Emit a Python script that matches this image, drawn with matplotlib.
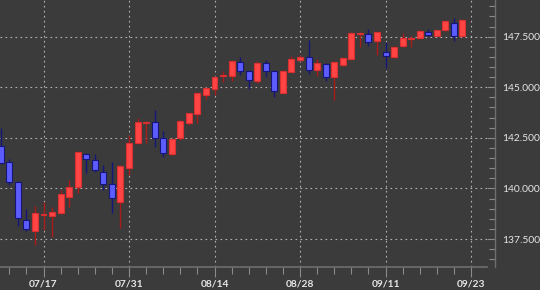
import numpy as np
import matplotlib
matplotlib.use('Agg')
from matplotlib import pyplot as plt
from matplotlib.ticker import MultipleLocator, FixedLocator, FuncFormatter

plt.rcParams['font.family'] = ['Lato', 'DejaVu Sans']

# daily candles (open, high, low, close), one per trading day
opens = [142.11, 141.29, 140.33, 138.44, 137.91, 138.67, 138.65, 138.77, 139.59, 140.09,
         141.69, 141.41, 140.83, 140.20, 139.34, 140.99, 142.23, 143.22, 143.30, 142.48,
         141.69, 142.48, 143.25, 143.68, 144.62, 144.90, 145.55, 145.56, 146.23, 145.80,
         145.31, 146.19, 145.80, 144.73, 145.77, 146.35, 146.48, 145.85, 146.14, 145.49,
         146.10, 146.38, 147.62, 147.63, 147.30, 146.76, 146.51, 147.04, 147.40, 147.42,
         147.72, 147.55, 147.83, 148.16, 147.53]
highs = [142.97, 141.44, 140.36, 138.97, 139.13, 139.34, 139.10, 139.92, 140.42, 141.85,
         141.77, 141.70, 141.16, 141.29, 141.15, 142.64, 143.47, 143.35, 143.88, 142.85,
         142.50, 143.40, 143.75, 144.75, 145.00, 145.55, 145.82, 146.35, 146.51, 145.85,
         146.30, 146.35, 145.85, 145.85, 146.55, 146.60, 147.34, 146.38, 146.20, 146.30,
         146.50, 147.75, 147.75, 147.87, 147.78, 147.22, 147.05, 147.67, 147.53, 147.82,
         147.87, 147.85, 148.32, 148.41, 148.38]
lows = [141.20, 140.17, 138.16, 137.91, 137.20, 137.94, 137.61, 138.72, 139.10, 139.79,
        140.75, 140.83, 139.92, 138.77, 138.03, 140.66, 142.20, 142.23, 142.06, 141.54,
        141.65, 142.40, 143.15, 143.22, 144.41, 144.62, 145.28, 145.31, 145.61, 144.90,
        145.20, 145.49, 144.50, 144.70, 145.75, 146.30, 145.66, 145.56, 145.31, 144.37,
        146.05, 146.35, 147.00, 147.04, 146.60, 145.94, 146.45, 147.00, 147.00, 147.40,
        147.55, 147.52, 147.78, 147.30, 147.50]
closes = [141.27, 140.33, 138.52, 137.99, 138.80, 138.72, 138.85, 139.71, 140.06, 141.82,
          141.45, 140.91, 140.22, 139.51, 141.12, 142.23, 143.30, 143.30, 142.51, 141.74,
          142.44, 143.35, 143.71, 144.73, 144.95, 145.52, 145.58, 146.31, 145.82, 145.36,
          146.21, 145.82, 144.82, 145.82, 146.40, 146.48, 145.85, 146.21, 145.49, 146.23,
          146.46, 147.70, 147.67, 147.25, 147.75, 146.56, 147.01, 147.45, 147.44, 147.80,
          147.58, 147.83, 148.29, 147.53, 148.33]

tick_pos = [5, 15, 25, 35, 45, 55]
tick_labels = ['07/17', '07/31', '08/14', '08/28', '09/11', '09/23']

bg = '#3b3b3b'
txt = '#e6e6e6'
up_face, up_edge, up_wick = '#ff4444', '#d83030', '#a81c1c'
dn_face, dn_edge, dn_wick = '#5c5cff', '#16167a', '#16167a'

o = np.array(opens)
h = np.array(highs)
l = np.array(lows)
c = np.array(closes)
x = np.arange(len(o))
up = c >= o

fig = plt.figure(figsize=(5.4, 2.9), dpi=100, facecolor=bg)
ax = fig.add_axes([0, 23 / 290, 487 / 540, 267 / 290], facecolor=bg)

# wicks first, bodies on top
ax.vlines(x[up], l[up], h[up], color=up_wick, lw=1.0, zorder=2)
ax.vlines(x[~up], l[~up], h[~up], color=dn_wick, lw=1.0, zorder=2)

bot = np.minimum(o, c)
hgt = np.maximum(np.abs(c - o), 0.05)
ax.bar(x[up], hgt[up], bottom=bot[up], width=0.7, color=up_face,
       edgecolor=up_edge, linewidth=0.8, zorder=3)
ax.bar(x[~up], hgt[~up], bottom=bot[~up], width=0.7, color=dn_face,
       edgecolor=dn_edge, linewidth=0.8, zorder=3)

ax.set_xlim(-0.088, 56.87)
ax.set_ylim(136.12, 149.31)

# x axis
ax.xaxis.set_major_locator(FixedLocator(tick_pos))
ax.set_xticklabels(tick_labels, fontweight='bold')
ax.xaxis.set_minor_locator(FixedLocator([i for i in range(1, 57, 2) if i not in tick_pos]))
ax.tick_params(axis='x', which='major', direction='out', length=7, width=0.8,
               color='#8a8a8a', labelcolor=txt, labelsize=7.4, pad=2)
ax.tick_params(axis='x', which='minor', direction='out', length=5, width=0.8,
               color='#8a8a8a')

# y axis on the right
ax.yaxis.tick_right()
ax.yaxis.set_major_locator(MultipleLocator(2.5))
ax.yaxis.set_minor_locator(MultipleLocator(0.5))
ax.yaxis.set_major_formatter(FuncFormatter(lambda v, p: f'{v:.3f}'))
ax.tick_params(axis='y', which='major', direction='in', length=6, width=0.8,
               color='#8a8a8a', labelcolor=txt, labelsize=7.4, pad=5)
ax.tick_params(axis='y', which='minor', direction='in', length=4, width=0.8,
               color='#8a8a8a')

for s in ['top', 'left']:
    ax.spines[s].set_visible(False)
ax.spines['bottom'].set_color('#6e6e6e')
ax.spines['bottom'].set_linewidth(1.2)
ax.spines['right'].set_color('#6e6e6e')
ax.spines['right'].set_linewidth(1.0)
ax.spines['right'].set_position(('outward', 5.8))

ax.grid(True, which='major', color='#b4b4b4', linestyle=(0, (1.5, 3)), linewidth=0.8, zorder=1)
ax.set_axisbelow(True)

fig.savefig('out.png', dpi=100, facecolor=bg)
